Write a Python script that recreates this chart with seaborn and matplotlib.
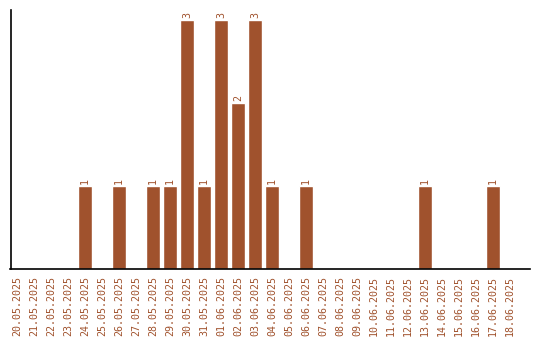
import matplotlib
matplotlib.use("Agg")
import matplotlib.pyplot as plt
import seaborn as sns
import pandas as pd

dates = ["20.05.2025", "21.05.2025", "22.05.2025", "23.05.2025", "24.05.2025",
         "25.05.2025", "26.05.2025", "27.05.2025", "28.05.2025", "29.05.2025",
         "30.05.2025", "31.05.2025", "01.06.2025", "02.06.2025", "03.06.2025",
         "04.06.2025", "05.06.2025", "06.06.2025", "07.06.2025", "08.06.2025",
         "09.06.2025", "10.06.2025", "11.06.2025", "12.06.2025", "13.06.2025",
         "14.06.2025", "15.06.2025", "16.06.2025", "17.06.2025", "18.06.2025"]
counts = [0, 0, 0, 0, 1, 0, 1, 0, 1, 1, 3, 1, 3, 2, 3, 1, 0, 1, 0, 0,
          0, 0, 0, 0, 1, 0, 0, 0, 1, 0]

COLOR = "#A0522D"
df = pd.DataFrame({"date": dates, "count": counts})

sns.set_style("white")
plt.rcParams["font.family"] = ["DejaVu Sans Mono"]

fig = plt.figure(figsize=(5.4, 3.4), dpi=100)
ax = fig.add_axes([10.5 / 540, (340 - 269) / 340, (530 - 10.5) / 540, (269 - 10) / 340])
sns.barplot(data=df, x="date", y="count", color=COLOR, saturation=1, width=0.82, ax=ax)

for i, v in enumerate(counts):
    if v > 0:
        ax.text(i, v + 0.025, str(v), rotation=90, ha="center", va="bottom",
                fontsize=7.2, color=COLOR)

ax.set_xlim(-0.38, 30.18)
ax.set_ylim(0, 3.12)
ax.set_xlabel("")
ax.set_ylabel("")
ax.set_yticks([])
ax.tick_params(axis="x", length=0, pad=5, labelsize=7.2, labelcolor=COLOR, rotation=90)
for s in ["top", "right"]:
    ax.spines[s].set_visible(False)
for s in ["left", "bottom"]:
    ax.spines[s].set_color("black")
    ax.spines[s].set_linewidth(1.2)

fig.savefig("out.png", dpi=100)
